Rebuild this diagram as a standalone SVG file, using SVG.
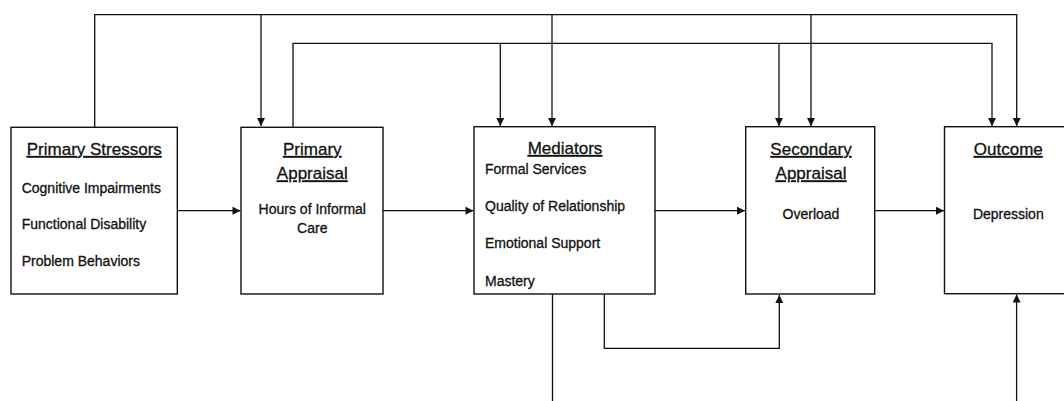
<svg xmlns="http://www.w3.org/2000/svg" width="1064" height="401" viewBox="0 0 1064 401">
<style>
.box{fill:#fff;stroke:#111;stroke-width:1.4}
.ln{fill:none;stroke:#111;stroke-width:1.3}
.h{font-family:"Liberation Sans",Arial,sans-serif;font-size:17px;fill:#111;stroke:#111;stroke-width:0.3;text-decoration:underline;text-anchor:middle}
.t{font-family:"Liberation Sans",Arial,sans-serif;font-size:14px;fill:#111;stroke:#111;stroke-width:0.3}
.c{text-anchor:middle}
</style>
<defs>
<marker id="ah" viewBox="0 0 10 10" refX="10" refY="5" markerWidth="9" markerHeight="8" markerUnits="userSpaceOnUse" orient="auto">
<path d="M0,0 L10,5 L0,10 z" fill="#111"/>
</marker>
</defs>
<rect width="1064" height="401" fill="#fff"/>
<g id="connectors">
<path class="ln" d="M94.7,127 V14.7 H1016.7 V126" marker-end="url(#ah)"/>
<path class="ln" d="M261,14.7 V126" marker-end="url(#ah)"/>
<path class="ln" d="M552,14.7 V126" marker-end="url(#ah)"/>
<path class="ln" d="M811,14.7 V126" marker-end="url(#ah)"/>
<path class="ln" d="M293,127 V43.3 H992 V126" marker-end="url(#ah)"/>
<path class="ln" d="M500.3,43.3 V126" marker-end="url(#ah)"/>
<path class="ln" d="M779,43.3 V126" marker-end="url(#ah)"/>
<path class="ln" d="M177,210.7 H240.5" marker-end="url(#ah)"/>
<path class="ln" d="M383,210.7 H473.5" marker-end="url(#ah)"/>
<path class="ln" d="M655,210.7 H745" marker-end="url(#ah)"/>
<path class="ln" d="M875,210.7 H944" marker-end="url(#ah)"/>
<path class="ln" d="M604.3,294 V348.3 H779.3 V295" marker-end="url(#ah)"/>
<path class="ln" d="M552.5,294 V401"/>
<path class="ln" d="M1016.6,401 V294.5" marker-end="url(#ah)"/>
</g>
<g id="primary-stressors">
<rect class="box" x="11" y="127.3" width="166.3" height="166.7"/>
<text class="h" x="94.3" y="155">Primary Stressors</text>
<text class="t" x="21.7" y="192.7">Cognitive Impairments</text>
<text class="t" x="21.7" y="229.3">Functional Disability</text>
<text class="t" x="21.7" y="266">Problem Behaviors</text>
</g>
<g id="primary-appraisal">
<rect class="box" x="241" y="127.3" width="142" height="166.7"/>
<text class="h" x="312.3" y="155">Primary</text>
<text class="h" x="312.3" y="179.3">Appraisal</text>
<text class="t c" x="312.3" y="214.3">Hours of Informal</text>
<text class="t c" x="312.3" y="232.7">Care</text>
</g>
<g id="mediators">
<rect class="box" x="474" y="126.7" width="181" height="167.3"/>
<text class="h" x="565" y="154">Mediators</text>
<text class="t" x="485" y="174">Formal Services</text>
<text class="t" x="485" y="211">Quality of Relationship</text>
<text class="t" x="485" y="248.3">Emotional Support</text>
<text class="t" x="485" y="285.7">Mastery</text>
</g>
<g id="secondary-appraisal">
<rect class="box" x="745.7" y="126.7" width="129" height="167.3"/>
<text class="h" x="811" y="155">Secondary</text>
<text class="h" x="811" y="179.3">Appraisal</text>
<text class="t c" x="811" y="219">Overload</text>
</g>
<g id="outcome">
<rect class="box" x="944.5" y="126.7" width="130" height="167"/>
<text class="h" x="1008.3" y="155">Outcome</text>
<text class="t c" x="1008.3" y="219">Depression</text>
</g>
</svg>
